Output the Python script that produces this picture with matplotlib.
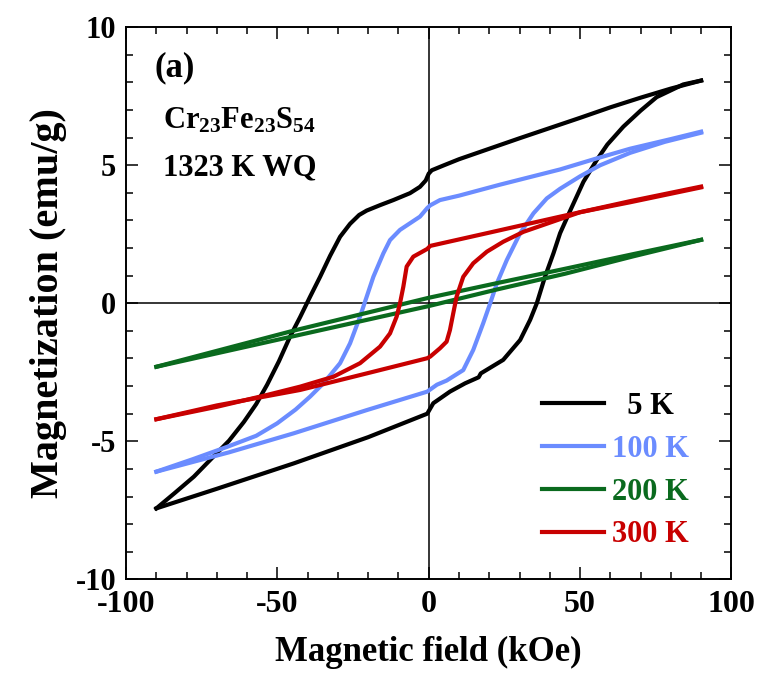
import matplotlib
matplotlib.use("Agg")
import matplotlib.pyplot as plt
from matplotlib.ticker import MultipleLocator

plt.rcParams['font.family'] = ['Liberation Serif', 'DejaVu Serif']
plt.rcParams['font.weight'] = 'bold'
plt.rcParams['mathtext.fontset'] = 'custom'
plt.rcParams['mathtext.bf'] = 'Liberation Serif:bold'
plt.rcParams['mathtext.rm'] = 'Liberation Serif:bold'
plt.rcParams['mathtext.default'] = 'bf'
plt.rcParams['axes.unicode_minus'] = False

# ---------------- data ----------------
labels = ["  5 K", "100 K", "200 K", "300 K"]
colors = ["#000000", "#6b8cff", "#0a6a1e", "#c80000"]

# 5 K: descending branch (+90 -> -90) and ascending branch (-90 -> +90)
h5_down = [90, 80, 70, 60, 50, 40, 30, 20, 10, 5, 1, 0, -1, -2.9, -6.2, -11.7, -16, -20.5,
           -23, -26, -29.3, -32.6, -35.9, -39.2, -42.5, -45.8, -49.5, -53.4, -57, -61.1,
           -66, -72, -77.6, -84, -90]
m5_down = [8.07, 7.78, 7.45, 7.1, 6.72, 6.35, 5.98, 5.6, 5.22, 5.0, 4.82, 4.7, 4.45, 4.22,
           3.99, 3.74, 3.56, 3.36, 3.2, 2.88, 2.41, 1.72, 0.96, 0.24, -0.5, -1.2, -2.1,
           -2.95, -3.65, -4.3, -4.98, -5.65, -6.28, -6.88, -7.43]
h5_up = [-90, -70, -44.6, -20, -0.5, 1.5, 7, 12, 16.5, 17.2, 24.6, 30.2, 33.5, 35.7, 38.4,
         41.2, 43.4, 46.5, 51.1, 55.5, 59, 64.3, 70, 75.3, 84.1, 90]
m5_up = [-7.43, -6.72, -5.80, -4.85, -4.0, -3.62, -3.2, -2.9, -2.68, -2.54, -2.05, -1.33,
         -0.6, 0.0, 0.96, 1.81, 2.54, 3.3, 4.4, 5.19, 5.75, 6.4, 6.98, 7.47, 7.93, 8.07]

# 100 K
h100_down = [90, 80, 66.5, 55.5, 43.4, 23.6, 10, 3.7, 0.5, -0.5, -2.9, -9.5, -12.8, -15,
             -18.3, -20.5, -22.7, -26, -29.3, -34.8, -39.2, -44, -50.1, -57, -66.6, -78, -90]
m100_down = [6.22, 5.95, 5.6, 5.25, 4.85, 4.3, 3.9, 3.74, 3.55, 3.45, 3.14, 2.66, 2.29, 1.81,
             0.96, 0.24, -0.48, -1.45, -2.17, -2.9, -3.38, -3.85, -4.35, -4.8, -5.2, -5.65, -6.1]
h100_up = [-90, -66, -44.6, -20.5, -0.5, 2.7, 5.9, 11.4, 14.7, 18, 20.3, 22.5, 25.8, 30.2,
           34.6, 39, 43.4, 50, 56.6, 66.5, 78, 90]
m100_up = [-6.1, -5.4, -4.71, -3.87, -3.2, -2.95, -2.8, -2.42, -1.69, -0.72, 0.0, 0.72, 1.57,
           2.54, 3.26, 3.8, 4.15, 4.6, 5.0, 5.45, 5.85, 6.18]

# 200 K
h200_down = [90, 67.5, 45, 22.5, 0, -22.5, -45, -67.5, -90]
m200_down = [2.3, 1.78, 1.25, 0.73, 0.2, -0.4, -1.0, -1.65, -2.3]
h200_up = [-90, -67.5, -45, -22.5, 0, 22.5, 45, 67.5, 90]
m200_up = [-2.3, -1.75, -1.2, -0.65, -0.1, 0.5, 1.07, 1.7, 2.3]

# 300 K
h300_down = [90, 66.5, 43.4, 20, 0.5, -0.5, -5.1, -7.3, -8.4, -9.5, -10.6, -12.8, -16.1,
             -22.7, -31.5, -42.5, -53.4, -70, -90]
m300_down = [4.23, 3.7, 3.14, 2.56, 2.08, 1.97, 1.69, 1.33, 0.6, 0.0, -0.48, -1.09, -1.57,
             -2.17, -2.66, -3.02, -3.32, -3.75, -4.2]
h300_up = [-90, -70, -42.5, -20.5, -0.5, 0.5, 3.7, 5.9, 7.0, 8.1, 9.2, 11.4, 14.7, 19.2,
           24.6, 31.3, 43.4, 50, 66.5, 90]
m300_up = [-4.2, -3.7, -3.14, -2.54, -1.99, -1.93, -1.63, -1.39, -0.97, -0.36, 0.24, 0.96,
           1.45, 1.87, 2.23, 2.59, 3.05, 3.3, 3.66, 4.2]

loops = [(h5_down, m5_down, h5_up, m5_up),
         (h100_down, m100_down, h100_up, m100_up),
         (h200_down, m200_down, h200_up, m200_up),
         (h300_down, m300_down, h300_up, m300_up)]

xticks = [-100, -50, 0, 50, 100]
yticks = [-10, -5, 0, 5, 10]

# ---------------- figure ----------------
fig = plt.figure(figsize=(7.68, 6.89), dpi=100)
ax = fig.add_axes([126.1 / 768, 1 - 579.3 / 689, 605.3 / 768, 552 / 689])

ax.axhline(0, color='black', lw=1.1, zorder=1.5)
ax.axvline(0, color='black', lw=1.1, zorder=1.5)

for (hd, md, hu, mu), lab, col in zip(loops, labels, colors):
    ax.plot(hd, md, color=col, lw=3.0, solid_joinstyle='round', zorder=2, label=lab)
    ax.plot(hu, mu, color=col, lw=3.0, solid_joinstyle='round', zorder=2)

ax.set_xlim(-100, 100)
ax.set_ylim(-10, 10)
ax.set_xticks(xticks)
ax.set_yticks(yticks)
ax.xaxis.set_minor_locator(MultipleLocator(10))
ax.yaxis.set_minor_locator(MultipleLocator(1))
ax.tick_params(which='both', direction='in', top=True, right=True, width=1.1)
ax.tick_params(which='major', length=8.5)
ax.tick_params(axis='x', which='major', labelsize=23, pad=8)
ax.tick_params(axis='y', which='major', labelsize=22, pad=7)
ax.tick_params(which='minor', length=5)
for sp in ax.spines.values():
    sp.set_linewidth(1.4)
for t in ax.get_xticklabels() + ax.get_yticklabels():
    t.set_fontweight('bold')

ax.set_xlabel("Magnetic field (kOe)", fontsize=25, fontweight='bold', labelpad=12)
ax.set_ylabel("Magnetization (emu/g)", fontsize=29, fontweight='bold', labelpad=6)

ax.text(0.0477, 0.926, "(a)", transform=ax.transAxes, fontsize=25, fontweight='bold',
        ha='left', va='center')
ax.text(0.061, 0.817, r"Cr$_{23}$Fe$_{23}$S$_{54}$", transform=ax.transAxes, fontsize=22,
        fontweight='bold', ha='left', va='baseline')
ax.text(0.061, 0.7324, "1323 K WQ", transform=ax.transAxes, fontsize=22, fontweight='bold',
        ha='left', va='baseline')

leg = ax.legend(loc='upper left', bbox_to_anchor=(0.6866, 0.339), frameon=False,
                handlelength=2.05, handletextpad=0.25, labelspacing=0.45,
                borderpad=0, borderaxespad=0, labelcolor='linecolor',
                prop={'weight': 'bold', 'size': 22})

fig.savefig("out.png", dpi=100)
